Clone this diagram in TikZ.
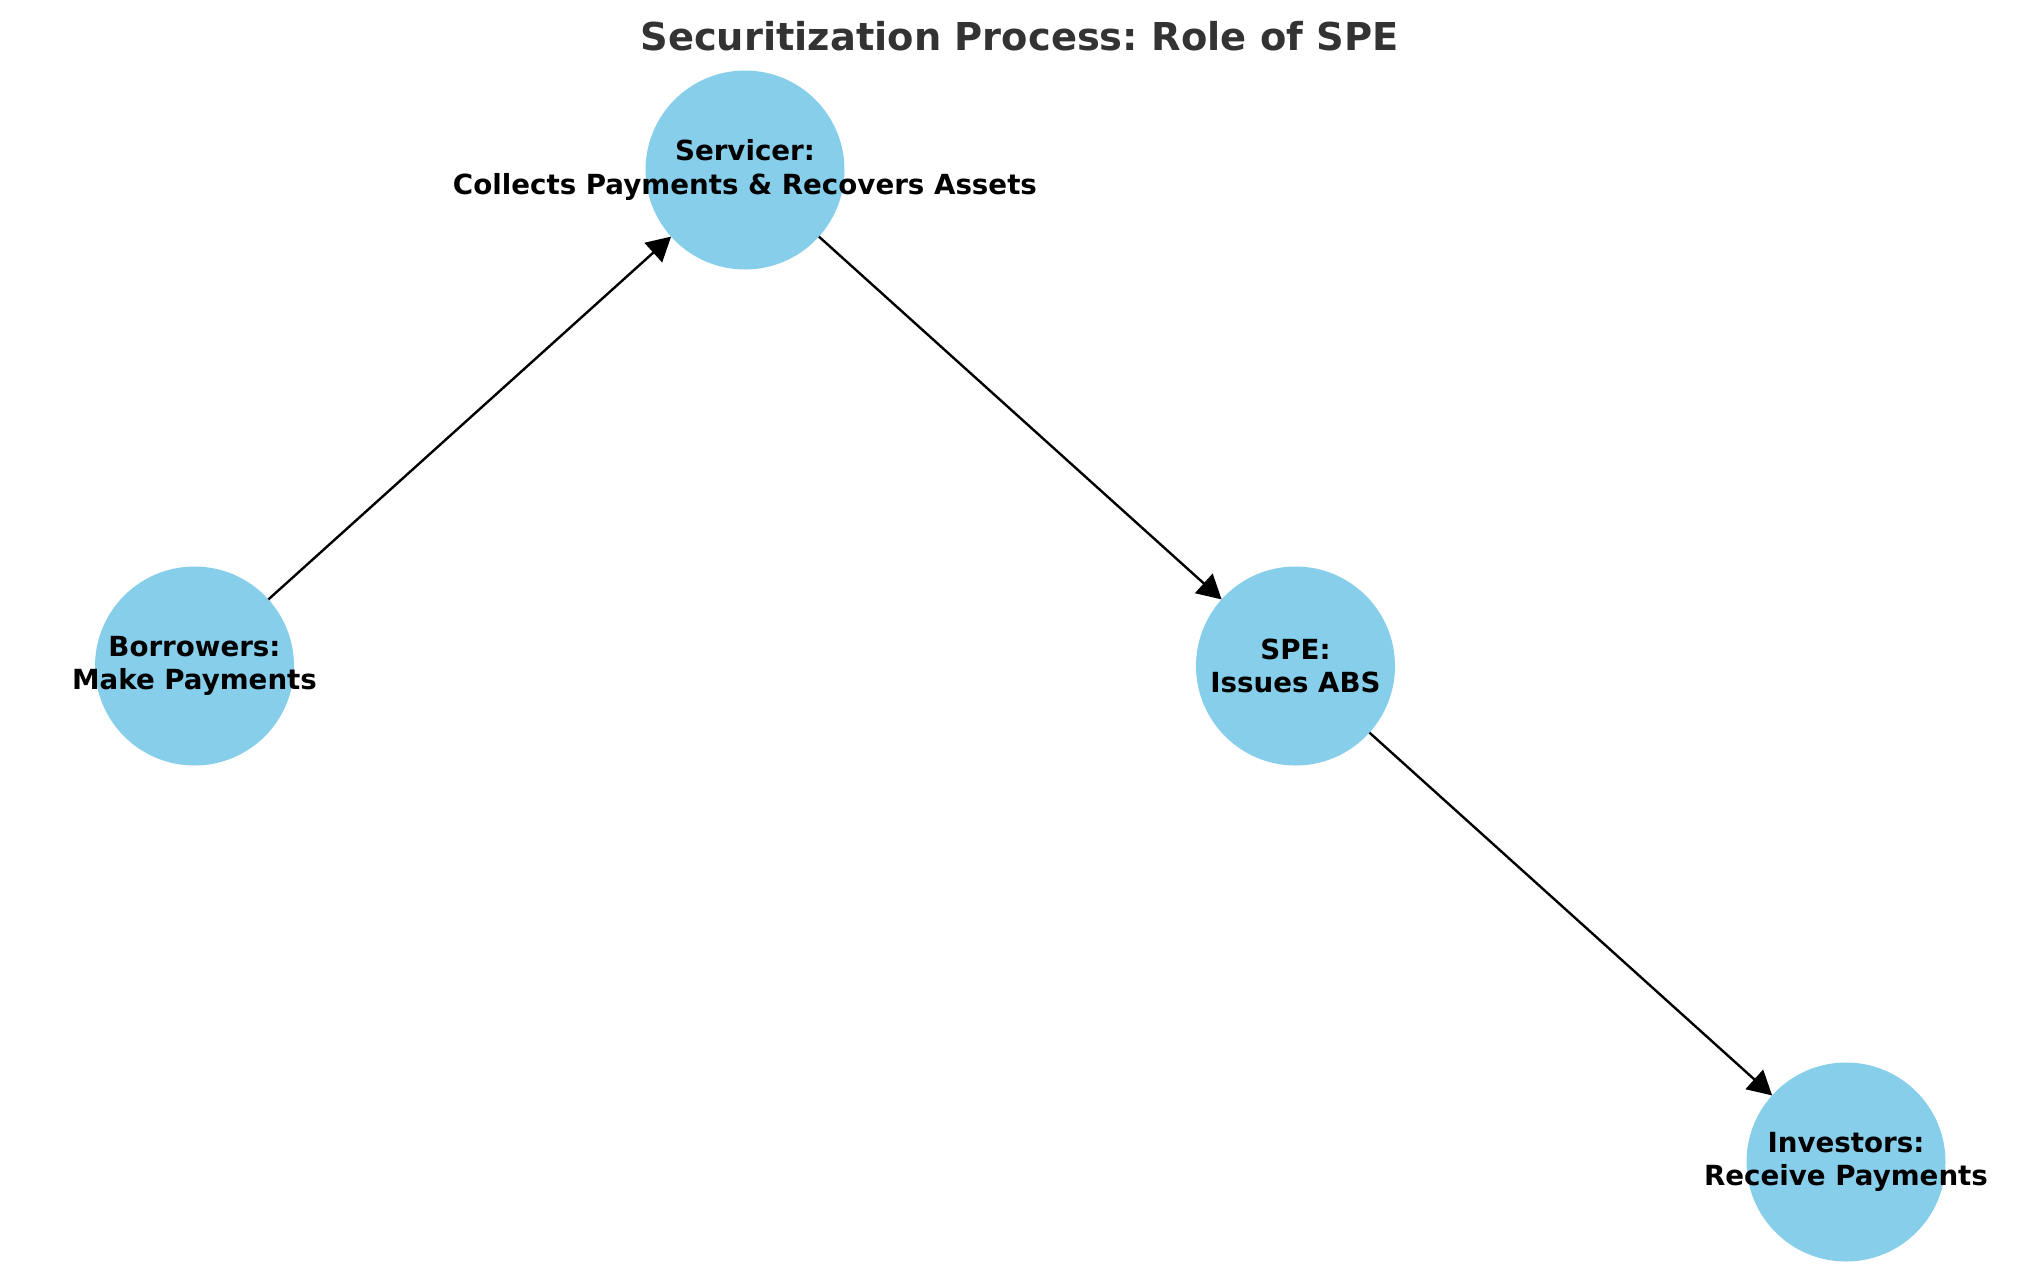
\documentclass[tikz,border=0pt]{standalone}
\usepackage{fontspec}
\setmainfont{DejaVu Sans}
\usetikzlibrary{arrows.meta,positioning}
\definecolor{skyblue}{HTML}{87CEEB}
\definecolor{titlegray}{HTML}{333333}
\frenchspacing

\begin{document}
\begin{tikzpicture}[
			x=0.5pt, y=-0.5pt,
			party/.style = {circle, fill=skyblue, minimum size=99.5pt, inner sep=0pt, outer sep=0pt},
			partytext/.style = {align=center, inner sep=0pt, font=\fontsize{13.85}{16.6}\selectfont\bfseries},
			flow/.style = {-{Triangle[length=12pt,width=13pt]}, line width=1.2pt}
			]
			\useasboundingbox (0,0) rectangle (2039,1286);
			\node[font=\fontsize{19.2}{23}\selectfont\bfseries, text=titlegray] (title) at (1019.5,36) {Securitization Process: Role of SPE};
			
			\node[party] (borrowers) at (194.5,666) {};
			\node[party] (servicer) at (745,170) {};
			\node[party] (spe) at (1295.5,666) {};
			\node[party] (investors) at (1846,1162) {};
			
			\node[partytext] (borrowers-text) at (borrowers) {Borrowers:\\Make Payments};
			\node[partytext] (servicer-text) at (servicer) {Servicer:\\Collects Payments \& Recovers Assets};
			\node[partytext] (spe-text) at (spe) {SPE:\\Issues ABS};
			\node[partytext] (investors-text) at (investors) {Investors:\\Receive Payments};
			
			\draw[flow] (borrowers) -- (servicer);
			\draw[flow] (servicer) -- (spe);
			\draw[flow] (spe) -- (investors);
		\end{tikzpicture}
\end{document}
